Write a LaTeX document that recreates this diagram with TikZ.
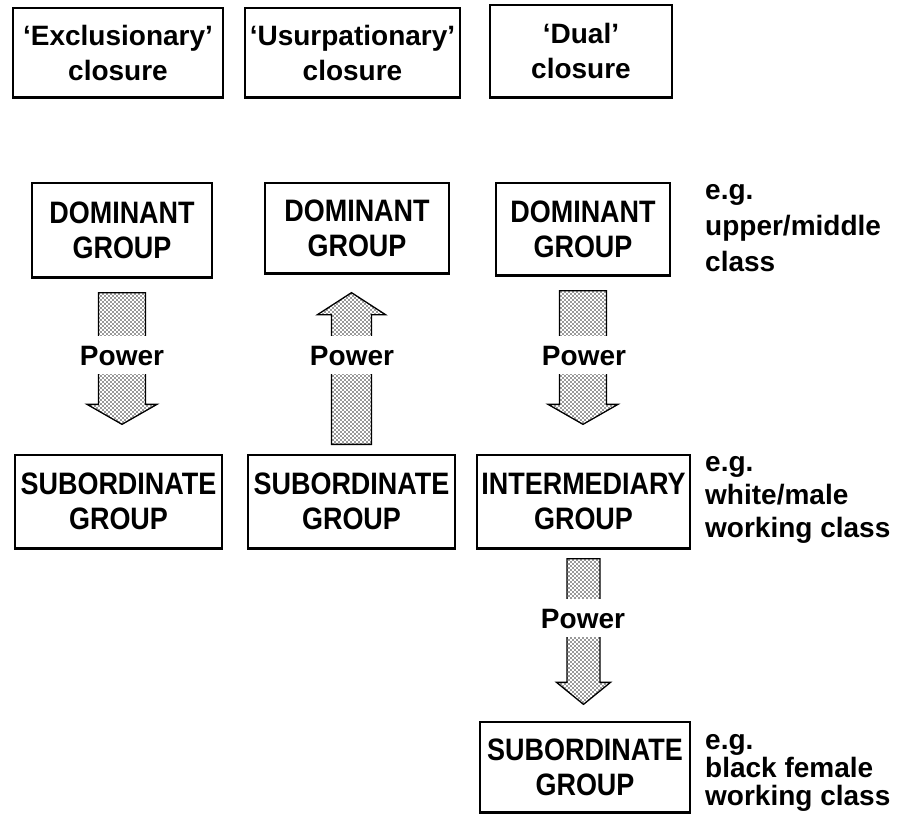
\documentclass[tikz,border=0pt]{standalone}
\usepackage{fontspec}
\setmainfont{Liberation Sans}
\newfontfamily\condfont{Liberation Sans}[FakeStretch=0.87]
\usetikzlibrary{patterns,calc}
\pgfdeclarepatternformonly{screendots}{\pgfpoint{-1pt}{-1pt}}{\pgfpoint{5pt}{5pt}}{\pgfpoint{4pt}{4pt}}{%
  \pgfpathcircle{\pgfpoint{1pt}{1pt}}{0.85pt}%
  \pgfpathcircle{\pgfpoint{3pt}{3pt}}{0.85pt}%
  \pgfusepath{fill}}
\tikzset{
  box/.style={draw, line width=1.3pt, align=center, inner sep=0pt,
    font=\condfont\bfseries\fontsize{31pt}{35pt}\selectfont},
  toplabel/.style={box, font=\bfseries\fontsize{28pt}{35pt}\selectfont},
  note/.style={align=left, anchor=north west, inner sep=0pt,
    font=\bfseries\fontsize{28pt}{33pt}\selectfont},
  powerlbl/.style={fill=white, inner xsep=1pt, inner ysep=9pt, text height=20pt, text depth=0pt,
    font=\bfseries\fontsize{28pt}{33pt}\selectfont},
  powerarrow/.style={draw, line width=1.3pt, line join=miter, pattern=screendots, pattern color=black!80}
}
\newcommand\fatarrow[5]{%
  \path[powerarrow] let \p1=(#1), \p2=(#2) in
   (\x1-#3,\y1) -- (\x1+#3,\y1) -- (\x1+#3,\y2+#5) -- (\x1+#4,\y2+#5) -- (\x1,\y2)
   -- (\x1-#4,\y2+#5) -- (\x1-#3,\y2+#5) -- cycle;}
\newcommand\shadowedge[1]{\draw[line width=3pt] (#1.south west) -- (#1.south east);}
\begin{document}
\begin{tikzpicture}[x=1pt,y=1pt]
\useasboundingbox[fill=white] (0,0) rectangle (898,-817);
% top labels
\node[toplabel, minimum width=210pt, minimum height=89pt] (top1) at (118,-52.5) {‘Exclusionary’\\closure};
\node[toplabel, minimum width=215pt, minimum height=89pt] (top2) at (352.5,-52.5) {‘Usurpationary’\\closure};
\node[toplabel, minimum width=182pt, minimum height=92pt] (top3) at (581,-51) {‘Dual’\\closure};
% dominant row
\node[box, minimum width=180pt, minimum height=94pt] (dom1) at (122,-230) {DOMINANT\\GROUP};
\node[box, minimum width=184pt, minimum height=90pt] (dom2) at (357,-228) {DOMINANT\\GROUP};
\node[box, minimum width=174pt, minimum height=92pt] (dom3) at (583,-229) {DOMINANT\\GROUP};
% lower row
\node[box, minimum width=207pt, minimum height=93pt] (sub1) at (118.5,-501.5) {SUBORDINATE\\GROUP};
\node[box, minimum width=207pt, minimum height=93pt] (sub2) at (351.5,-501.5) {SUBORDINATE\\GROUP};
\node[box, minimum width=213pt, minimum height=93pt] (sub3) at (583.5,-501.5) {INTERMEDIARY\\GROUP};
\node[box, minimum width=210pt, minimum height=90pt] (sub4) at (585,-767) {SUBORDINATE\\GROUP};
\foreach \n in {top1,top2,top3,dom1,dom2,dom3,sub1,sub2,sub3,sub4} {\shadowedge{\n}}
% notes
\node[note, font=\bfseries\fontsize{28pt}{36pt}\selectfont] (n1) at (705,-184) {e.g.\\upper/middle\\class};
\node[note] (n2) at (705,-456) {e.g.\\white/male\\working class};
\node[note, font=\bfseries\fontsize{28pt}{28pt}\selectfont] (n3) at (705,-734) {e.g.\\black female\\working class};
% arrows
\coordinate (a1s) at ([yshift=-15pt]dom1.south);
\coordinate (a1t) at ([yshift=30pt]sub1.north);
\coordinate (a2s) at ([yshift=10pt]sub2.north);
\coordinate (a2t) at ([yshift=-19pt]dom2.south);
\coordinate (a3s) at ([yshift=-15pt]dom3.south);
\coordinate (a3t) at ([yshift=30pt]sub3.north);
\coordinate (a4s) at ([yshift=-10pt]sub3.south);
\coordinate (a4t) at ([yshift=17pt]sub4.north);
\fatarrow{a1s}{a1t}{23.5pt}{35pt}{20pt}
\fatarrow{a2s}{a2t}{20pt}{34pt}{-22pt}
\fatarrow{a3s}{a3t}{23.5pt}{35pt}{20pt}
\fatarrow{a4s}{a4t}{16.5pt}{27pt}{22pt}
\node[powerlbl] (p1) at (122,-355) {Power};
\node[powerlbl] (p2) at (352,-355) {Power};
\node[powerlbl] (p3) at (584,-355) {Power};
\node[powerlbl] (p4) at (583,-618) {Power};
\end{tikzpicture}
\end{document}
